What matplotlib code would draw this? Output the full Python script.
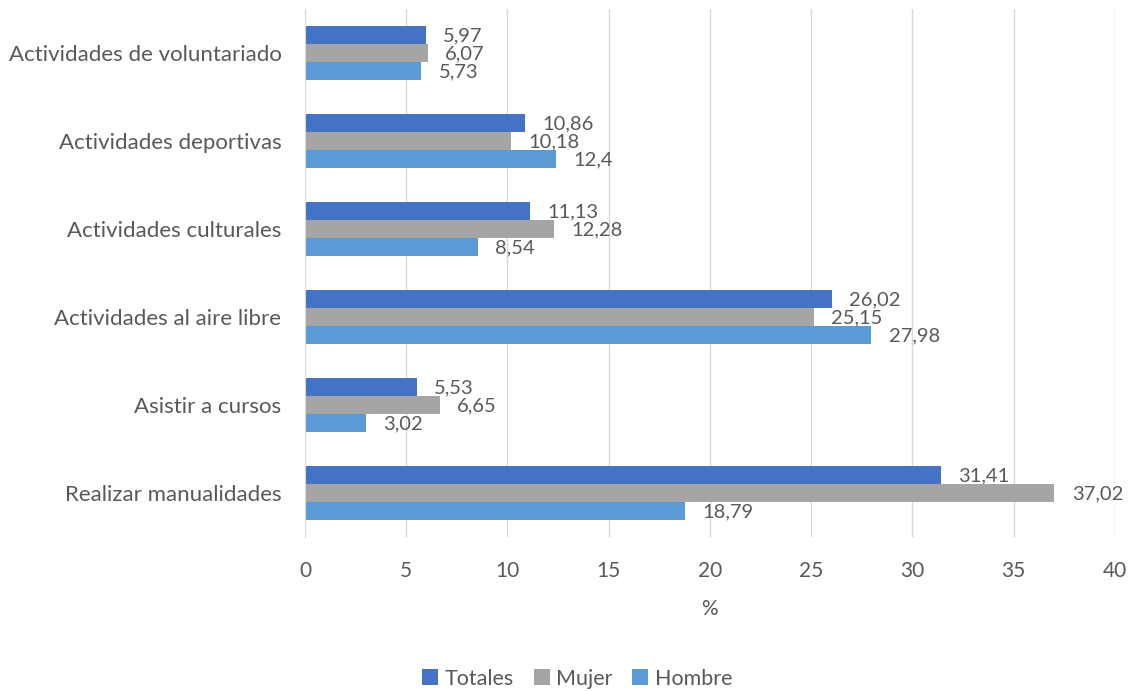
import matplotlib
matplotlib.use("Agg")
import matplotlib.pyplot as plt
import numpy as np

categories = [
    "Realizar manualidades",
    "Asistir a cursos",
    "Actividades al aire libre",
    "Actividades culturales",
    "Actividades deportivas",
    "Actividades de voluntariado",
]
totales = [31.41, 5.53, 26.02, 11.13, 10.86, 5.97]
mujer = [37.02, 6.65, 25.15, 12.28, 10.18, 6.07]
hombre = [18.79, 3.02, 27.98, 8.54, 12.4, 5.73]
series_names = ["Totales", "Mujer", "Hombre"]
series_colors = ["#4472C4", "#A5A5A5", "#5B9BD5"]
x_ticks = [0, 5, 10, 15, 20, 25, 30, 35, 40]

plt.rcParams["font.family"] = ["Lato", "DejaVu Sans"]
text_color = "#595959"

fig = plt.figure(figsize=(11.34, 6.91), dpi=100)
ax = fig.add_axes([0.269, 0.223, 0.714, 0.764])

y = np.arange(len(categories))
h = 0.205
series = [totales, mujer, hombre]
offsets = [h, 0, -h]
for vals, name, color, off in zip(series, series_names, series_colors, offsets):
    bars = ax.barh(y + off, vals, height=h, color=color, label=name, zorder=3)
    for rect, v in zip(bars, vals):
        label = f"{v:g}".replace(".", ",")
        ax.annotate(label, (rect.get_width(), rect.get_y() + rect.get_height() / 2),
                    xytext=(12.5, -0.5), textcoords="offset points",
                    ha="left", va="center", fontsize=14.5, color=text_color)

ax.set_xlim(0, 40)
ax.set_ylim(-0.5, len(categories) - 0.5)
ax.set_xticks(x_ticks)
ax.set_xticklabels([str(t) for t in x_ticks])
ax.set_yticks(y)
ax.set_yticklabels(categories)
ax.tick_params(axis="x", length=0, labelsize=15, colors=text_color, pad=17)
ax.tick_params(axis="y", length=0, labelsize=16, colors=text_color, pad=17)
ax.xaxis.grid(True, color="#D9D9D9", linewidth=1, zorder=0)
for s in ["top", "right", "bottom"]:
    ax.spines[s].set_visible(False)
ax.spines["left"].set_color("#D9D9D9")
ax.spines["left"].set_zorder(4)

ax.set_xlabel("%", fontsize=15, color=text_color, labelpad=13)

handles, labels = ax.get_legend_handles_labels()
fig.legend(handles, labels, loc="center", bbox_to_anchor=(0.509, 0.018),
           ncol=3, frameon=False, fontsize=15.5, labelcolor=text_color,
           handlelength=0.75, handleheight=0.75, handletextpad=0.3, columnspacing=0.9)

fig.savefig("out.png", dpi=100)
